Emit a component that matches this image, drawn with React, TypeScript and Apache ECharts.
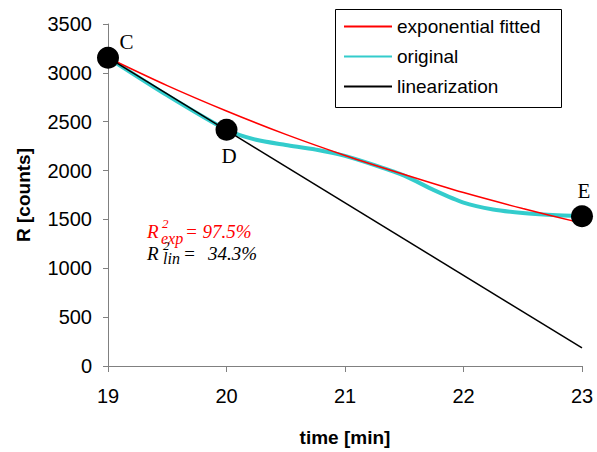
import React, { useEffect, useRef } from "react";
import * as echarts from "echarts";

const xTicks = [19, 20, 21, 22, 23];
const yTicks = [0, 500, 1000, 1500, 2000, 2500, 3000, 3500];

const expTime = [19, 19.5, 20, 20.5, 21, 21.5, 22, 22.5, 23];
const expValues = [3155, 2870, 2610, 2370, 2155, 1960, 1775, 1612, 1462];

const origTime = [19, 19.5, 20, 20.25, 20.5, 20.75, 21, 21.25, 21.5, 21.75, 22, 22.25, 22.5, 22.75, 23];
const origValues = [3155, 2770, 2418, 2315, 2262, 2215, 2150, 2055, 1948, 1800, 1672, 1602, 1566, 1545, 1532];

const linTime = [19, 23];
const linValues = [3155, 185];

const pointNames = ["C", "D", "E"];
const pointTime = [19, 20, 23];
const pointValues = [3155, 2418, 1532];

const seriesNames = ["exponential fitted", "original", "linearization"];

export default function App() {
  const ref = useRef<HTMLDivElement>(null);
  useEffect(() => {
    if (!ref.current) return;
    const chart = echarts.init(ref.current, null, { renderer: "svg" });
    const sans = "'Liberation Sans', Arial, sans-serif";
    const serif = "'Liberation Serif', 'Times New Roman', serif";
    const labelOffsets: Record<string, number[]> = { C: [29.5, -5], D: [13.5, 37.5], E: [13, -14.5] };
    const txt = (x: number, y: number, text: string, size: number, color: string, lh: number) => ({
      type: "text",
      x,
      y,
      style: {
        text,
        font: `italic ${size}px ${serif}`,
        fill: color,
        verticalAlign: "middle",
        lineHeight: lh,
      },
    });
    chart.setOption({
      animation: false,
      grid: { left: 108, right: 15, top: 24, bottom: 83 },
      legend: {
        data: seriesNames,
        orient: "vertical",
        left: 338,
        top: 12,
        itemWidth: 48,
        itemHeight: 14,
        itemGap: 11,
        itemStyle: { opacity: 0 },
        textStyle: { fontFamily: sans, fontSize: 19, color: "#000" },
      },
      xAxis: {
        type: "value",
        min: xTicks[0],
        max: xTicks[xTicks.length - 1],
        interval: 1,
        name: "time [min]",
        nameLocation: "middle",
        nameGap: 62,
        nameTextStyle: { fontFamily: sans, fontSize: 19, fontWeight: "bold", color: "#000" },
        axisLine: { lineStyle: { color: "#808080", width: 1 } },
        axisTick: { length: 6, lineStyle: { color: "#808080" } },
        axisLabel: { margin: 20, fontFamily: sans, fontSize: 20, color: "#000" },
        splitLine: { show: false },
      },
      yAxis: {
        type: "value",
        min: yTicks[0],
        max: yTicks[yTicks.length - 1],
        interval: 500,
        name: "R [counts]",
        nameLocation: "middle",
        nameGap: 75,
        nameTextStyle: { fontFamily: sans, fontSize: 19, fontWeight: "bold", color: "#000" },
        axisLine: { show: true, lineStyle: { color: "#808080", width: 1 } },
        axisTick: { show: true, length: 5, lineStyle: { color: "#808080" } },
        axisLabel: { margin: 16, fontFamily: sans, fontSize: 20, color: "#000", formatter: (v: number) => String(v) },
        splitLine: { show: false },
      },
      series: [
        {
          name: "original",
          type: "line",
          symbol: "none",
          smooth: 0.25,
          clip: false,
          lineStyle: { color: "#33CCCC", width: 4 },
          itemStyle: { color: "#33CCCC" },
          data: origTime.map((t, i) => [t, origValues[i]]),
          z: 2,
        },
        {
          name: "exponential fitted",
          type: "line",
          symbol: "none",
          smooth: 0.3,
          clip: false,
          lineStyle: { color: "#FF0000", width: 1.5 },
          itemStyle: { color: "#FF0000" },
          data: expTime.map((t, i) => [t, expValues[i]]),
          z: 3,
        },
        {
          name: "linearization",
          type: "line",
          symbol: "none",
          clip: false,
          lineStyle: { color: "#000000", width: 1.5 },
          itemStyle: { color: "#000000" },
          data: linTime.map((t, i) => [t, linValues[i]]),
          z: 4,
        },
        {
          name: "points",
          type: "scatter",
          symbol: "circle",
          symbolSize: 22,
          clip: false,
          itemStyle: { color: "#000000", opacity: 1 },
          z: 5,
          data: pointTime.map((t, i) => ({
            value: [t, pointValues[i]],
            label: {
              show: true,
              formatter: pointNames[i],
              position: labelOffsets[pointNames[i]],
              align: "center",
              verticalAlign: "middle",
              fontFamily: serif,
              fontSize: 21,
              color: "#000",
            },
          })),
        },
      ],
      graphic: [
        {
          type: "rect",
          shape: { x: 335.5, y: 9.5, width: 226, height: 98 },
          style: { fill: "none", stroke: "#000", lineWidth: 1 },
          silent: true,
        },
        txt(147, 231, "R", 19, "#FF0000", 14),
        txt(162, 223.5, "2", 13, "#FF0000", 9),
        txt(161, 238.5, "exp", 16, "#FF0000", 10),
        txt(185, 231, "= 97.5%", 19, "#FF0000", 14),
        txt(147, 253, "R", 19, "#000", 14),
        txt(163, 245, "2", 13, "#000", 9),
        txt(163, 258.5, "lin", 16, "#000", 10),
        txt(183, 253, "=", 19, "#000", 14),
        txt(208, 253, "34.3%", 19, "#000", 14),
      ],
    });
    return () => chart.dispose();
  }, []);
  return <div ref={ref} style={{ position: "absolute", left: 0, top: 0, width: 597, height: 452 }} />;
}
